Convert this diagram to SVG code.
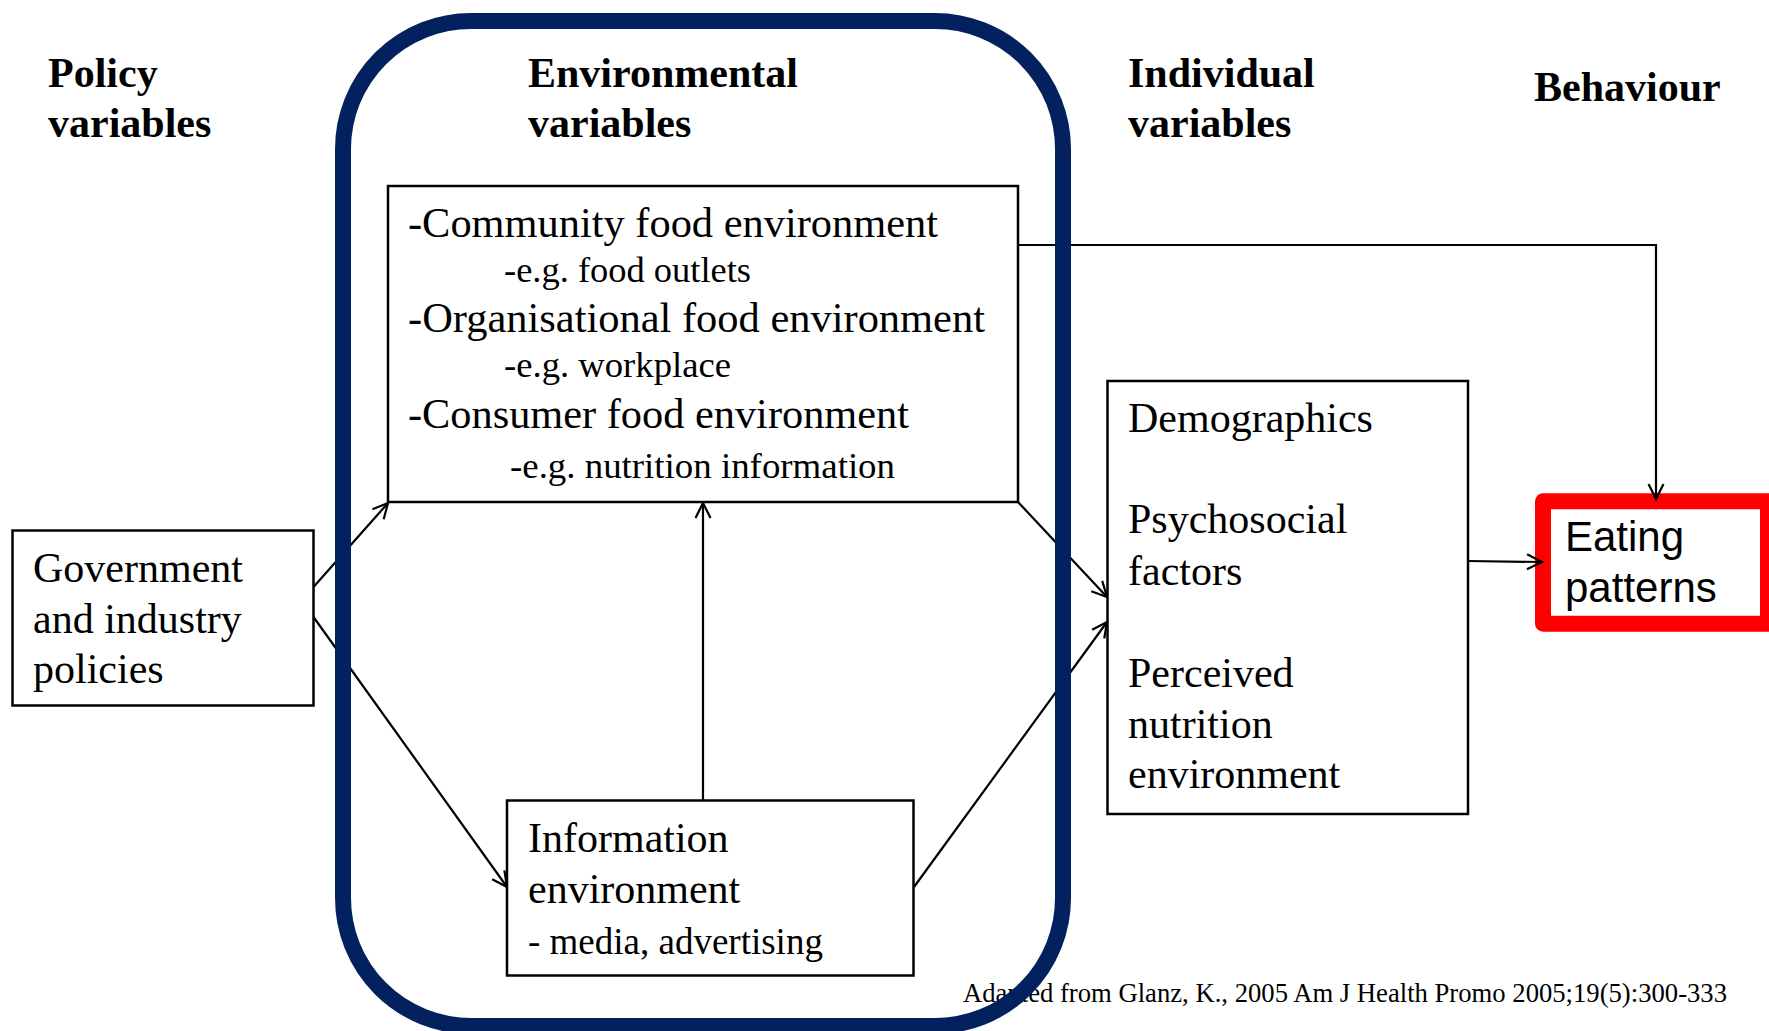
<svg xmlns="http://www.w3.org/2000/svg" width="1769" height="1031" viewBox="0 0 1769 1031">
<style>
.hd{font-family:"Liberation Serif","Times New Roman",serif;font-weight:bold;font-size:42px;fill:#000}
.tx{font-family:"Liberation Serif","Times New Roman",serif;font-size:42px;fill:#000}
.sm{font-family:"Liberation Serif","Times New Roman",serif;font-size:36px;fill:#000}
.sans{font-family:"Liberation Sans",Arial,sans-serif;font-size:42px;fill:#000}
.box{fill:#fff;stroke:#000;stroke-width:2.5}
.con{fill:none;stroke:#000;stroke-width:2.2}
</style>
<defs>
<marker id="arr" viewBox="-17 -9 19 18" markerWidth="19" markerHeight="18" refX="0" refY="0" orient="auto" markerUnits="userSpaceOnUse">
<path d="M-15,-7.5 L0,0 L-15,7.5" fill="none" stroke="#000" stroke-width="2.2"/>
</marker>
</defs>
<rect width="1769" height="1031" fill="#fff"/>
<g id="headings">
<text class="hd" x="48" y="87">Policy</text>
<text class="hd" x="48" y="137">variables</text>
<text class="hd" x="528" y="87">Environmental</text>
<text class="hd" x="528" y="137">variables</text>
<text class="hd" x="1128" y="87">Individual</text>
<text class="hd" x="1128" y="137">variables</text>
<text class="hd" x="1534" y="101">Behaviour</text>
</g>
<g id="eating-patterns">
<rect x="1543" y="501.3" width="225" height="122.4" fill="#fff" stroke="#ff0000" stroke-width="16" stroke-linejoin="round"/>
<text class="sans" x="1565" y="551">Eating</text>
<text class="sans" x="1565" y="601.5">patterns</text>
</g>
<g id="connectors">
<line class="con" x1="313.5" y1="587" x2="388" y2="503" marker-end="url(#arr)"/>
<line class="con" x1="313.5" y1="617" x2="507" y2="887" marker-end="url(#arr)"/>
<line class="con" x1="703" y1="800" x2="703" y2="503" marker-end="url(#arr)"/>
<line class="con" x1="1018" y1="502" x2="1107" y2="597" marker-end="url(#arr)"/>
<line class="con" x1="914" y1="887" x2="1107" y2="622" marker-end="url(#arr)"/>
<line class="con" x1="1468" y1="561" x2="1542" y2="562" marker-end="url(#arr)"/>
<polyline class="con" points="1018,245 1656,245 1656,499" marker-end="url(#arr)"/>
</g>
<text id="source" x="963" y="1002" textLength="764" lengthAdjust="spacingAndGlyphs" style="font-family:'Liberation Serif','Times New Roman',serif;font-size:26.6px">Adapted from Glanz, K., 2005 Am J Health Promo 2005;19(5):300-333</text>
<g id="policies">
<rect class="box" x="12.5" y="530.5" width="301" height="175"/>
<text class="tx" x="33" y="582">Government</text>
<text class="tx" x="33" y="633">and industry</text>
<text class="tx" x="33" y="683">policies</text>
</g>
<g id="food-environments">
<rect class="box" x="388" y="186" width="630" height="316"/>
<text class="tx" x="408" y="237" textLength="530" lengthAdjust="spacingAndGlyphs">-Community food environment</text>
<text class="sm" x="504" y="282" textLength="247" lengthAdjust="spacingAndGlyphs">-e.g. food outlets</text>
<text class="tx" x="408" y="332" textLength="577" lengthAdjust="spacingAndGlyphs">-Organisational food environment</text>
<text class="sm" x="504" y="377" textLength="227" lengthAdjust="spacingAndGlyphs">-e.g. workplace</text>
<text class="tx" x="408" y="428" textLength="501" lengthAdjust="spacingAndGlyphs">-Consumer food environment</text>
<text class="sm" x="510" y="478" textLength="385" lengthAdjust="spacingAndGlyphs">-e.g. nutrition information</text>
</g>
<g id="information-environment">
<rect class="box" x="507" y="800.5" width="406.5" height="175"/>
<text class="tx" x="528" y="852">Information</text>
<text class="tx" x="528" y="903">environment</text>
<text class="tx" x="528" y="954" style="font-size:37px">- media, advertising</text>
</g>
<g id="individual">
<rect class="box" x="1107.5" y="381" width="360.5" height="433"/>
<text class="tx" x="1128" y="432">Demographics</text>
<text class="tx" x="1128" y="533">Psychosocial</text>
<text class="tx" x="1128" y="585">factors</text>
<text class="tx" x="1128" y="687">Perceived</text>
<text class="tx" x="1128" y="738">nutrition</text>
<text class="tx" x="1128" y="788">environment</text>
</g>
<g id="environment-frame">
<rect x="343" y="21" width="720" height="1005" rx="128" ry="128" fill="none" stroke="#03215f" stroke-width="16"/>
</g>
</svg>
